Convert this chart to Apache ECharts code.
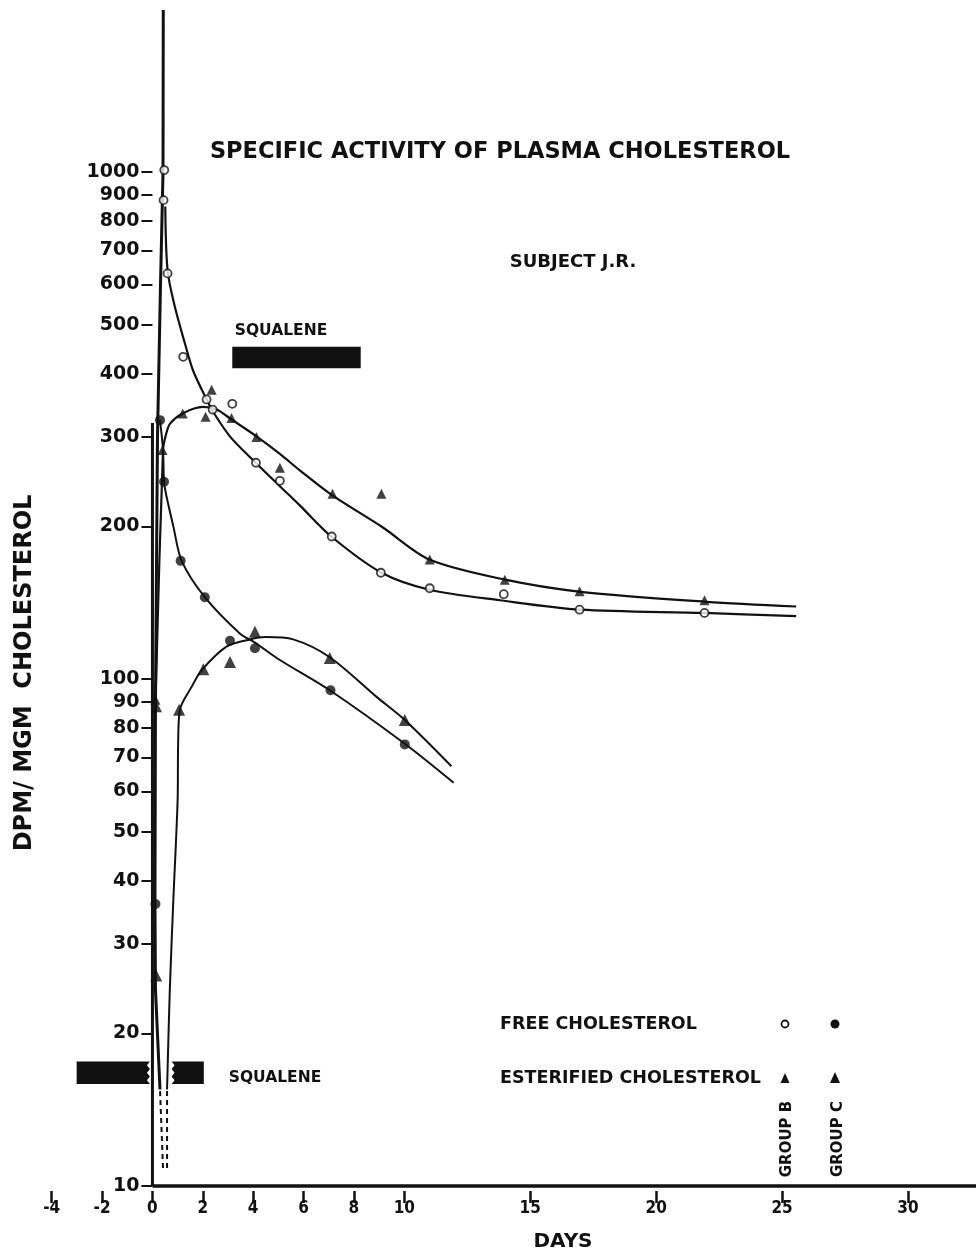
<!DOCTYPE html>
<html>
<head>
<meta charset="utf-8">
<script src="https://cdn.jsdelivr.net/npm/echarts@6/dist/echarts.min.js"></script>
<style>
  html, body { margin: 0; padding: 0; background: #fff; }
  #chart { width: 976px; height: 1253px; }
</style>
</head>
<body>
<div id="chart"></div>
<script>
// tick positions
const xTicks = [-4, -2, 0, 2, 4, 6, 8, 10, 15, 20, 25, 30]
const yTicks = [10, 20, 30, 40, 50, 60, 70, 80, 90, 100, 200, 300, 400, 500, 600, 700, 800, 900, 1000]

// measured points [day, dpm/mgm]
const groupBFree = [[0.44, 880], [0.47, 1009], [0.6, 631], [1.22, 432], [2.15, 356], [2.39, 340], [3.17, 349], [4.11, 267], [5.06, 246], [7.12, 191], [9.07, 162], [11.01, 151], [13.95, 147], [16.96, 137], [21.92, 135]]
const groupBEster = [[0.12, 91], [0.18, 88], [0.4, 283], [1.2, 334], [2.11, 329], [2.35, 372], [3.14, 327], [4.13, 300], [5.06, 261], [7.15, 232], [9.09, 232], [11.01, 172], [13.99, 157], [16.96, 149], [21.92, 143]]
const groupCFree = [[0.12, 36], [0.3, 324], [0.46, 245], [1.12, 171], [2.08, 145], [3.08, 119], [4.07, 115], [7.07, 95], [10.02, 74.3]]
const groupCEster = [[0.15, 26], [1.06, 87], [2.02, 104.5], [3.08, 108], [4.07, 124], [7.04, 110], [10.02, 83]]

// hand drawn curves
const bFreeCurve = [[0.51, 855], [0.6, 640], [0.89, 542], [1.29, 459], [1.62, 405], [2.15, 356], [2.4, 337], [3.1, 300], [4.07, 268], [5.06, 240], [5.85, 220], [7.1, 191], [9.1, 162], [11, 150], [13.8, 143], [17, 137], [21.9, 135], [25.56, 133]]
const bEsterCurve = [[0.12, 90], [0.42, 283], [0.55, 305], [0.7, 319], [1.2, 334], [2.0, 344], [2.55, 340], [3.14, 325], [4.13, 301], [5.06, 278], [5.85, 258], [7.1, 231], [9.15, 199], [11, 172], [14, 157], [17, 148.6], [22, 142], [25.56, 139]]
const cFreeCurve = [[0.3, 324], [0.42, 283], [0.46, 245], [0.56, 229], [0.83, 200], [1.16, 171], [2.08, 145], [3.47, 123], [4.07, 118], [5.06, 109], [7.04, 95], [10.02, 74.5], [11.96, 62.4]]
const cEsterCurve = [[0.58, 15.5], [0.69, 24.4], [0.83, 36.7], [1.0, 57.7], [1.02, 74.5], [1.09, 87], [1.56, 96.6], [1.95, 104], [2.94, 115.8], [3.87, 119.7], [4.5, 121], [5.59, 119.7], [7.04, 110.4], [8.9, 92.2], [10.02, 83], [11.87, 67.3]]
const riseLine = [[0.3, 15.5], [0.12, 24.4], [0.1, 36], [0.12, 90], [0.2, 300], [0.32, 600], [0.42, 1000], [0.43, 2087]]
const riseDash = [[0.42, 10.85], [0.3, 15.5]]
const esterDash = [[0.58, 10.85], [0.58, 15.5]]

// squalene feeding periods: [fromDay, toDay, low, high, zigLeft, zigRight]
const squaleneBars = [[-3.01, -0.1, 15.9, 17.6, 0, 1], [0.76, 2.04, 15.9, 17.6, 1, 0], [3.17, 8.27, 410, 452, 0, 0]]

const xMin = -4
const xMax = 32.7
const yMin = 10
const yMax = 2087
const yAxisTop = 320
const ink = '#111'
const font = 'DejaVu Sans'

const gridLeft = 51.7
const gridWidth = 976 - gridLeft
// shift the value axis from the grid edge onto day 0
const yAxisShift = -gridWidth * (0 - xMin) / (xMax - xMin)

let chart = echarts.init(document.getElementById('chart'))

const curve = (data, width, smooth) => ({
  type: 'line',
  data: data,
  symbol: 'none',
  smooth: smooth,
  clip: false,
  silent: true,
  lineStyle: { color: ink, width: width },
})

const dots = (data, symbol, size, filled) => ({
  type: 'scatter',
  data: data,
  symbol: symbol,
  symbolSize: size,
  itemStyle: {
    color: filled ? ink : '#fff',
    borderColor: ink,
    borderWidth: filled ? 0 : 1.8,
  },
  z: 5,
})

function renderBar(params, api) {
  let a = api.coord([api.value(0), api.value(3)])
  let b = api.coord([api.value(1), api.value(2)])
  let zl = api.value(4), zr = api.value(5)
  let pts = [[a[0], a[1]], [b[0], a[1]]]
  let h = b[1] - a[1]
  if (zr) {
    for (let i = 1; i < 6; i++) pts.push([b[0] - (i % 2 ? 3 : 0), a[1] + h * i / 6])
  }
  pts.push([b[0], b[1]], [a[0], b[1]])
  if (zl) {
    for (let i = 5; i > 0; i--) pts.push([a[0] + (i % 2 ? 3 : 0), a[1] + h * i / 6])
  }
  return { type: 'polygon', shape: { points: pts }, style: { fill: ink } }
}

const txt = (text, x, y, size, extra, align) => Object.assign({
  type: 'text',
  x: x,
  y: y,
  style: {
    text: text,
    font: 'bold ' + size + 'px "' + font + '"',
    fill: ink,
    textAlign: align || 'center',
    align: align || 'center',
    textVerticalAlign: 'middle',
    verticalAlign: 'middle',
  },
}, extra || {})

let options = {
  backgroundColor: '#fff',
  animation: false,
  grid: { left: gridLeft, right: 0, top: 10, bottom: 67, outerBoundsMode: 'none', containLabel: false },
  xAxis: {
    type: 'value',
    min: xMin,
    max: xMax,
    offset: 5,
    splitLine: { show: false },
    axisLine: { show: false, onZero: false },
    axisTick: { show: true, customValues: xTicks, length: 12, lineStyle: { color: ink, width: 2.5 } },
    axisLabel: {
      customValues: xTicks,
      margin: 9,
      color: ink,
      fontFamily: 'DejaVu Sans Condensed, DejaVu Sans',
      fontWeight: 'bold',
      fontSize: 17,
    },
  },
  yAxis: {
    type: 'log',
    min: yMin,
    max: yMax,
    offset: yAxisShift,
    splitLine: { show: false },
    axisLine: { show: false, onZero: false },
    axisTick: { show: true, customValues: yTicks, length: 11, lineStyle: { color: ink, width: 2 } },
    axisLabel: {
      customValues: yTicks,
      formatter: v => String(v),
      margin: 13,
      color: ink,
      fontFamily: font,
      fontWeight: 'bold',
      fontSize: 19,
    },
  },
  series: [
    curve([[0, yMin], [xMax, yMin]], 3.5, false),
    curve([[0, yMin], [0, yAxisTop]], 3, false),
    curve(riseLine, 3, false),
    Object.assign(curve(riseDash, 2, false), { lineStyle: { color: ink, width: 2, type: [5, 4] } }),
    Object.assign(curve(esterDash, 2, false), { lineStyle: { color: ink, width: 2, type: [5, 4] } }),
    curve(bFreeCurve, 2.2, 0.3),
    curve(bEsterCurve, 2.2, 0.3),
    curve(cFreeCurve, 2, 0.3),
    curve(cEsterCurve, 2, 0.3),
    dots(groupBFree, 'circle', 8, false),
    dots(groupBEster, 'triangle', 10, true),
    dots(groupCFree, 'circle', 10, true),
    dots(groupCEster, 'triangle', 12, true),
    {
      type: 'custom',
      renderItem: renderBar,
      data: squaleneBars,
      encode: { x: [0, 1], y: [2, 3] },
      clip: false,
      silent: true,
      z: 4,
    },
  ],
  graphic: [
    txt('SPECIFIC ACTIVITY OF PLASMA CHOLESTEROL', 500, 152, 22.5),
    txt('SUBJECT J.R.', 573, 262, 18),
    txt('SQUALENE', 281, 331, 15.5),
    txt('SQUALENE', 275, 1078, 15.5),
    txt('FREE CHOLESTEROL', 500, 1024, 17.5, null, 'left'),
    txt('ESTERIFIED CHOLESTEROL', 500, 1078, 17.5, null, 'left'),
    txt('GROUP B', 787, 1139, 15, { rotation: Math.PI / 2 }),
    txt('GROUP C', 838, 1139, 15, { rotation: Math.PI / 2 }),
    txt('DAYS', 563, 1242, 20),
    txt('DPM/ MGM  CHOLESTEROL', 25, 673, 24, { rotation: Math.PI / 2 }),
    { type: 'circle', shape: { cx: 785, cy: 1024, r: 3.5 }, style: { fill: '#fff', stroke: ink, lineWidth: 1.8 } },
    { type: 'circle', shape: { cx: 835, cy: 1024, r: 4.5 }, style: { fill: ink } },
    { type: 'polygon', shape: { points: [[785, 1073], [789.5, 1083], [780.5, 1083]] }, style: { fill: ink } },
    { type: 'polygon', shape: { points: [[835, 1072], [840, 1083], [830, 1083]] }, style: { fill: ink } },
  ],
}
chart.setOption(options)
</script>
</body>
</html>
